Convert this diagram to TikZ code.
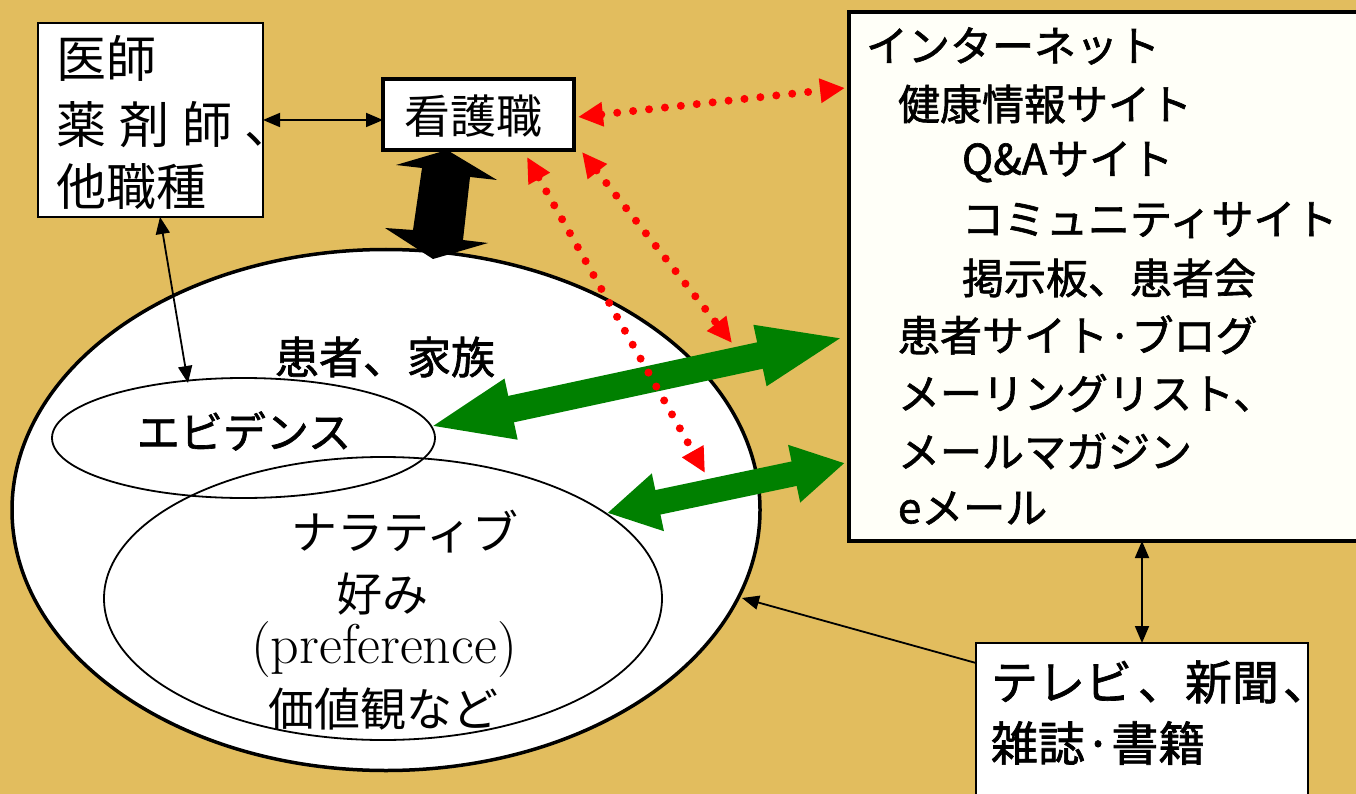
\documentclass[tikz,border=0pt]{standalone}
\usepackage{fontspec}
\usetikzlibrary{arrows.meta,shapes.geometric}
\newfontfamily\jp{Noto Sans CJK JP}
\newfontfamily\jpb[FakeBold=1.5]{Noto Sans CJK JP}
\definecolor{bg}{RGB}{226,189,94}
\definecolor{grn}{RGB}{0,128,0}
\definecolor{inetfill}{RGB}{255,255,248}
\newcommand\fsz[1]{\fontsize{#1}{#1}\selectfont}
\begin{document}
\begin{tikzpicture}[x=1pt,y=-1pt,
  box/.style={draw=black, fill=white, inner sep=0pt, outer sep=0pt},
  oval/.style={ellipse, draw=black, inner sep=0pt, outer sep=0pt},
  txt/.style={inner sep=0pt, outer sep=0pt, anchor=west, font=\jp},
  ctxt/.style={inner sep=0pt, outer sep=0pt, font=\jp},
  thinarrow/.style={draw=black, line width=1.8pt, {Triangle[length=17pt,width=14pt]}-{Triangle[length=17pt,width=14pt]}},
  onearrow/.style={draw=black, line width=1.8pt, -{Triangle[length=17pt,width=14pt]}},
  reddot/.style={draw=red, line width=8pt, line cap=round, dash pattern=on 0pt off 16pt, {Triangle[length=25pt,width=23pt]}-{Triangle[length=25pt,width=23pt]}},
  greenarrow/.style={draw=grn, line width=#1},
]
\useasboundingbox (0,0) rectangle (1356,794);
\fill[bg] (0,0) rectangle (1356,794);

% patient ellipses
\node[oval, fill=white, line width=3.5pt, minimum width=748pt, minimum height=521pt] (big) at (386,510) {};
\node[oval, line width=1.8pt, minimum width=383pt, minimum height=120pt] (evid) at (243.5,438) {};
\node[oval, line width=1.8pt, minimum width=558pt, minimum height=283pt] (narr) at (383,598.5) {};

\node[ctxt, font=\jpb\fsz{44}] (fam) at (385,357) {患者、家族};
\node[ctxt, font=\jpb\fsz{43}] (evt) at (244,431) {エビデンス};
\node[ctxt, font=\jp\fsz{46}] (n1) at (405,532) {ナラティブ};
\node[ctxt, font=\jp\fsz{46}] (n2) at (382,594) {好み};
\node[inner sep=0pt, font=\rmfamily\fsz{56}] (n3) at (384,650) {(preference)};
\node[ctxt, font=\jp\fsz{46}] (n4) at (383,709) {価値観など};

% boxes
\node[box, line width=2pt, minimum width=225pt, minimum height=194pt] (A) at (150.5,120) {};
\node[txt, font=\jp\fsz{50}] (A1) at (56,58) {医師};
\node[txt, font=\jp\fsz{50}] (A2) at (56,125) {薬\hspace{13pt}剤\hspace{13pt}師\hspace{12pt}、};
\node[txt, font=\jp\fsz{50}] (A3) at (56,187) {他職種};

\node[box, line width=3.5pt, minimum width=191pt, minimum height=71pt] (B) at (478.5,114.5) {};
\node[ctxt, font=\jp\fsz{46}] (Bt) at (473,116) {看護職};

\node[box, fill=inetfill, line width=4pt, minimum width=523pt, minimum height=529pt] (inet) at (1110.5,276.5) {};
\node[txt, font=\jpb\fsz{42}] (i1) at (866,46) {インターネット};
\node[txt, font=\jpb\fsz{42}] (i2) at (898,104) {健康情報サイト};
\node[txt, font=\jpb\fsz{42}] (i3) at (962,162) {Q\&Aサイト};
\node[txt, font=\jpb\fsz{42}] (i4) at (962,220) {コミュニティサイト};
\node[txt, font=\jpb\fsz{42}] (i5) at (962,278) {掲示板、患者会};
\node[txt, font=\jpb\fsz{42}] (i6) at (898,335) {患者サイト·ブログ};
\node[txt, font=\jpb\fsz{42}] (i7) at (898,393) {メーリングリスト、};
\node[txt, font=\jpb\fsz{42}] (i8) at (898,451) {メールマガジン};
\node[txt, font=\jpb\fsz{42}] (i9) at (898,508) {eメール};

\node[box, line width=2.5pt, minimum width=332pt, minimum height=177pt] (tv) at (1142,731.5) {};
\node[txt, font=\jpb\fsz{47}] (tv1) at (991,682) {テレビ\hspace{6pt}、新聞\hspace{4pt}、};
\node[txt, font=\jpb\fsz{47}] (tv2) at (991,743) {雑誌·書籍};

% connector end points
\coordinate (aBot) at (160,217);
\coordinate (eTop) at (188,383);
\coordinate (tvL) at (976,663);
\coordinate (bigR) at (742,598);
\coordinate (r1a) at (578,117);
\coordinate (r1b) at (845,88);
\coordinate (r2a) at (527,157);
\coordinate (r2b) at (705,473);
\coordinate (r3a) at (582,152);
\coordinate (r3b) at (732,343);
\coordinate (g1a) at (428,427);
\coordinate (g1b) at (846,337);
\coordinate (g2a) at (607,513);
\coordinate (g2b) at (845,463);

% thin black connectors
\draw[thinarrow] (A.east) -- (A.east -| B.west);
\draw[thinarrow] (aBot) -- (eTop);
\draw[thinarrow] (inet.south -| tv.north) -- (tv.north);
\draw[onearrow] (tvL) -- (bigR);

% big black double arrow between nurse and patient
\fill[black] (447,150) -- (497,180) -- (470,177) -- (463,240) -- (488,243) -- (433,259)
  -- (385,228) -- (413,230) -- (422,168) -- (396,165) -- cycle;

% green arrows
\draw[greenarrow=27pt, {Triangle[length=85pt,width=55pt]}-{Triangle[length=88pt,width=55pt]}] (g1a) -- (g1b);
\draw[greenarrow=25pt, {Triangle[length=52pt,width=55pt]}-{Triangle[length=52pt,width=55pt]}] (g2a) -- (g2b);

% red dotted arrows
\draw[reddot] (r1a) -- (r1b);
\draw[reddot] (r2a) -- (r2b);
\draw[reddot] (r3a) -- (r3b);
\end{tikzpicture}
\end{document}
